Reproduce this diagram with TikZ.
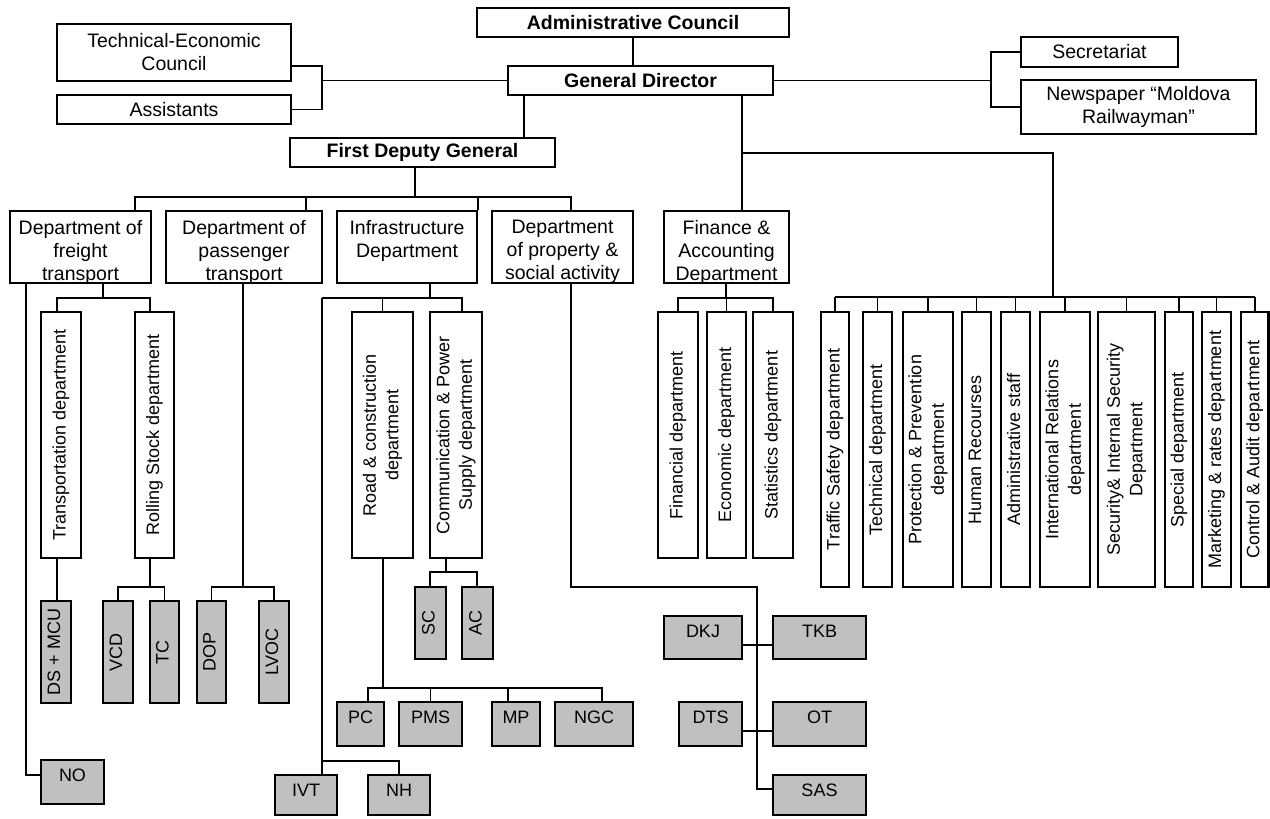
\documentclass[tikz,border=0pt]{standalone}
\usepackage{fontspec}
\setmainfont{Liberation Sans}
\usepackage{graphicx}
\definecolor{gfill}{HTML}{C0C0C0}
\newcommand\mkbox[7]{%
 \pgfmathsetmacro\bw{#5-#3}\pgfmathsetmacro\bh{#6-#4}%
 \node[#1, minimum width=\bw pt, minimum height=\bh pt] (#2) at ({(#3+#5)/2},{(#4+#6)/2}) {#7};}
\newcommand\mktop[7]{%
 \mkbox{#1}{#2}{#3}{#4}{#5}{#6}{}%
 \begin{scope}\clip (#2.south west) rectangle (#2.north east);
 \node[#1, draw=none, fill=none, anchor=north] (#2t) at ([yshift=-9pt]#2.north) {#7};
 \end{scope}}
\newcommand\vt[1]{\rotatebox{90}{\begin{tabular}{@{}c@{}}#1\end{tabular}}}
\begin{document}
\begin{tikzpicture}[x=1pt,y=-1pt,
 wbox/.style={draw, line width=2.1pt, fill=white, inner sep=0pt, align=center, font=\fontsize{19.5}{23}\selectfont},
 bbox/.style={wbox, font=\fontsize{19.5}{23}\selectfont\bfseries},
 vbox/.style={wbox, font=\fontsize{18}{22.5}\selectfont},
 gbox/.style={wbox, fill=gfill, font=\fontsize{18}{21}\selectfont},
 ln/.style={line width=1.9pt}]
\useasboundingbox (0,0) rectangle (1270,819);
% top level
\mkbox{bbox}{ac}{477}{8}{789}{37}{Administrative Council}
\mkbox{bbox}{gd}{508}{66}{773}{95}{General Director}
\mkbox{bbox}{fdg}{290}{138}{555}{167}{First Deputy General}
\mkbox{wbox}{tec}{57}{24}{291}{81}{Technical-Economic\\Council}
\mkbox{wbox}{asst}{57}{95}{291}{124}{Assistants}
\mkbox{wbox}{sec}{1021}{37}{1178}{67}{Secretariat}
\mkbox{wbox}{news}{1021}{80}{1256}{134}{Newspaper “Moldova\\Railwayman”}
% departments
\mktop{wbox}{fr}{10}{211}{151}{283}{Department of\\freight\\transport}
\mktop{wbox}{pa}{166}{211}{322}{283}{Department of\\passenger\\transport}
\mktop{wbox}{inf}{337}{211}{477}{283}{Infrastructure\\Department}
\mktop{wbox}{prop}{492}{211}{633}{283}{Department\\of property \&\\social activity}
\mktop{wbox}{fin}{664}{211}{789}{283}{Finance \&\\Accounting\\Department}
% vertical boxes
\mkbox{vbox}{tr}{41}{312}{81}{558}{\vt{Transportation department}}
\mkbox{vbox}{rs}{135}{312}{174}{558}{\vt{Rolling Stock department}}
\mkbox{vbox}{road}{352}{312}{413}{558}{\vt{Road \& construction\\department}}
\mkbox{vbox}{comm}{430}{312}{482}{558}{\vt{Communication \& Power\\Supply department}}
\mkbox{vbox}{finl}{658}{312}{698}{558}{\vt{Financial department}}
\mkbox{vbox}{eco}{707}{312}{746}{558}{\vt{Economic department}}
\mkbox{vbox}{sta}{753}{312}{793}{558}{\vt{Statistics department}}
\mkbox{vbox}{traf}{821}{312}{849}{587}{\vt{Traffic Safety department}}
\mkbox{vbox}{tech}{863}{312}{892}{587}{\vt{Technical department}}
\mkbox{vbox}{prot}{903}{312}{953}{587}{\vt{Protection \& Prevention\\department}}
\mkbox{vbox}{hum}{962}{312}{991}{587}{\vt{Human Recourses}}
\mkbox{vbox}{adm}{1001}{312}{1030}{587}{\vt{Administrative staff}}
\mkbox{vbox}{intl}{1040}{312}{1090}{587}{\vt{International Relations\\department}}
\mkbox{vbox}{secu}{1098}{312}{1155}{587}{\vt{Security\& Internal Security\\Department}}
\mkbox{vbox}{spec}{1165}{312}{1193}{587}{\vt{Special department}}
\mkbox{vbox}{mkt}{1202}{312}{1231}{587}{\vt{Marketing \& rates department}}
\mkbox{vbox}{ctrl}{1241}{312}{1268.5}{587}{\vt{Control \& Audit department}}
% grey rotated
\mkbox{gbox}{ds}{41}{601}{71}{703}{\vt{DS + MCU}}
\mkbox{gbox}{vcd}{103}{601}{133}{703}{\vt{VCD}}
\mkbox{gbox}{tc}{150}{601}{179}{703}{\vt{TC}}
\mkbox{gbox}{dop}{197}{601}{226}{703}{\vt{DOP}}
\mkbox{gbox}{lvoc}{259}{601}{289}{703}{\vt{LVOC}}
\mkbox{gbox}{sc}{415}{587}{446}{659}{\vt{SC}}
\mkbox{gbox}{acx}{462}{587}{493}{659}{\vt{AC}}
% grey horizontal
\mktop{gbox}{pc}{337}{702}{384}{746}{PC}
\mktop{gbox}{pms}{399}{702}{462}{746}{PMS}
\mktop{gbox}{mp}{492}{702}{540}{746}{MP}
\mktop{gbox}{ngc}{555}{702}{633}{746}{NGC}
\mktop{gbox}{no}{41}{760}{104}{804}{NO}
\mktop{gbox}{ivt}{275}{775}{337}{815}{IVT}
\mktop{gbox}{nh}{368}{775}{430}{815}{NH}
\mktop{gbox}{dkj}{664}{616}{742}{659}{DKJ}
\mktop{gbox}{tkb}{773}{616}{866}{659}{TKB}
\mktop{gbox}{dts}{679}{702}{742}{746}{DTS}
\mktop{gbox}{ot}{773}{702}{866}{746}{OT}
\mktop{gbox}{sas}{773}{775}{866}{815}{SAS}
% ---------- connectors
\draw[ln] (ac.south) -- (ac.south |- gd.north);
\coordinate (lb) at (322,80.5);
\draw[ln] (gd.west) -- (lb);
\draw[ln] ([yshift=-13.5pt]tec.east) -| (lb |- asst.east) -- (asst.east);
\coordinate (rb) at (991,80.5);
\draw[ln] (gd.east) -- (rb);
\draw[ln] (sec.west) -| (rb |- news.west) -- (news.west);
\coordinate (g1) at (524,0);
\draw[ln] (gd.south -| g1) -- (fdg.north -| g1);
\coordinate (fb) at (415,197);
\draw[ln] (fdg.south -| fb) -- (fb);
\coordinate (fbl) at (135,197);
\coordinate (fbr) at (571,197);
\coordinate (fbp) at (306,197);
\draw[ln] (fr.north -| fbl) -- (fbl) -- (fbr) -- (prop.north -| fbr);
\draw[ln] (fbp) -- (pa.north -| fbp);
\draw[ln] (inf.north east |- fbl) -- (inf.north east);
% general director right branch
\coordinate (g2) at (742,153);
\coordinate (g3) at (1053,153);
\coordinate (rbar) at (1053,297);
\draw[ln] (gd.south -| g2) -- (fin.north -| g2);
\draw[ln] (g2) -- (g3) -- (rbar);
\draw[ln] (traf.north |- rbar) -- (ctrl.north |- rbar);
\foreach \n in {traf,tech,prot,hum,adm,intl,secu,spec,mkt,ctrl}
  \draw[ln] (\n.north |- rbar) -- (\n.north);
% finance
\coordinate (fs) at (726,298);
\draw[ln] (fin.south -| fs) -- (fs);
\draw[ln] (finl.north) -- (finl.north |- fs) -- (sta.north |- fs) -- (sta.north);
\draw[ln] (eco.north |- fs) -- (eco.north);
% freight
\coordinate (fs1) at (103,298);
\coordinate (t1) at (57,298);
\coordinate (t2) at (150,298);
\draw[ln] (fr.south -| fs1) -- (fs1);
\draw[ln] (tr.north -| t1) -- (t1) -- (t2) -- (rs.north -| t2);
\coordinate (n1) at (26,0);
\draw[ln] (fr.south -| n1) |- ([yshift=7pt]no.west);
\draw[ln] (tr.south -| t1) -- (ds.north -| t1);
\coordinate (r1) at (150,587);
\draw[ln] (rs.south -| r1) -- (r1);
\draw[ln] (vcd.north) -- (vcd.north |- r1) -- (tc.north |- r1) -- (tc.north);
% passenger
\coordinate (p1) at (243,587);
\draw[ln] (pa.south -| p1) -- (p1);
\draw[ln] (dop.north) -- (dop.north |- p1) -- (lvoc.north |- p1) -- (lvoc.north);
% infrastructure
\coordinate (i1) at (430,298);
\coordinate (i0) at (322,298);
\coordinate (i2) at (462,298);
\draw[ln] (inf.south -| i1) -- (i1);
\draw[ln] (i0) -- (i2) -- (comm.north -| i2);
\draw[ln] (road.north |- i1) -- (road.north);
\coordinate (i3) at (322,761);
\draw[ln] (i0) -- (i3) -- (nh.north |- i3) -- (nh.north);
\draw[ln] (i3) -- (ivt.north -| i3);
% road
\coordinate (rd) at (383,688);
\coordinate (rdl) at (368,688);
\coordinate (rdr) at (602,688);
\coordinate (rdm) at (508,688);
\draw[ln] (road.south -| rd) -- (rd);
\draw[ln] (pc.north -| rdl) -- (rdl) -- (rdr) -- (ngc.north -| rdr);
\draw[ln] (pms.north |- rd) -- (pms.north);
\draw[ln] (rdm) -- (mp.north -| rdm);
% communication
\coordinate (cm) at (446,572);
\coordinate (cml) at (430,572);
\coordinate (cmr) at (477,572);
\draw[ln] (comm.south -| cm) -- (cm);
\draw[ln] (sc.north -| cml) -- (cml) -- (cmr) -- (acx.north -| cmr);
% property
\coordinate (q1) at (571,587);
\coordinate (q2) at (757,587);
\coordinate (q3) at ([yshift=6pt]sas.west);
\draw[ln] (prop.south -| q1) -- (q1) -- (q2) -- (q2 |- q3) -- (q3);
\draw[ln] ([yshift=-7.5pt]dkj.east) -- ([yshift=-7.5pt]tkb.west);
\draw[ln] ([yshift=-7pt]dts.east) -- ([yshift=-7pt]ot.west);
\end{tikzpicture}
\end{document}
